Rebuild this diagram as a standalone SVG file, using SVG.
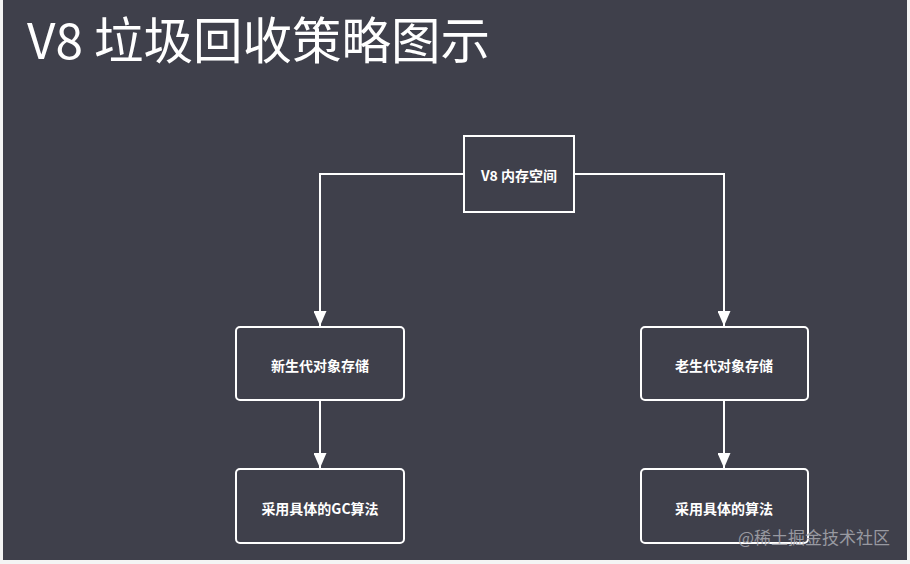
<svg xmlns="http://www.w3.org/2000/svg" width="910" height="564" viewBox="0 0 910 564">
<style>
.box{fill:none;stroke:#ffffff;stroke-width:2}
.lbl{font-family:"Noto Sans CJK SC","Noto Sans",sans-serif;font-size:14px;font-weight:bold;fill:#ffffff;text-anchor:middle;dominant-baseline:central}
.edge{fill:none;stroke:#ffffff;stroke-width:2}
</style>
<defs>
<marker id="arr" markerWidth="15" markerHeight="13" refX="15" refY="6.5" orient="auto" markerUnits="userSpaceOnUse" viewBox="0 0 15 13">
<path d="M0,0 L15,6.5 L0,13 Z" fill="#ffffff"/>
</marker>
</defs>
<rect x="0" y="0" width="910" height="564" fill="#f4f4f4"/>
<rect x="3" y="0" width="904" height="560" fill="#3f404b"/>
<text x="27" y="59" font-size="49.5" fill="#ffffff" style="font-family:'Noto Sans CJK SC','Noto Sans',sans-serif">V8 垃圾回收策略图示</text>
<g id="connectors">
<path class="edge" d="M464,174 H320 V326" marker-end="url(#arr)"/>
<path class="edge" d="M574,174 H724 V326" marker-end="url(#arr)"/>
<path class="edge" d="M320,400 V468" marker-end="url(#arr)"/>
<path class="edge" d="M724,400 V468" marker-end="url(#arr)"/>
</g>
<g id="n_root">
<rect class="box" x="464" y="136" width="110" height="76"/>
<text class="lbl" x="519" y="175">V8 内存空间</text>
</g>
<g id="n_young">
<rect class="box" x="236" y="327" width="168" height="73" rx="4"/>
<text class="lbl" x="320" y="365">新生代对象存储</text>
</g>
<g id="n_old">
<rect class="box" x="641" y="327" width="167" height="73" rx="4"/>
<text class="lbl" x="724" y="365">老生代对象存储</text>
</g>
<g id="n_young_gc">
<rect class="box" x="236" y="469" width="168" height="74" rx="4"/>
<text class="lbl" x="320" y="508">采用具体的GC算法</text>
</g>
<g id="n_old_gc">
<rect class="box" x="641" y="469" width="167" height="74" rx="4"/>
<text class="lbl" x="724" y="508">采用具体的算法</text>
</g>
<text x="890" y="536" text-anchor="end" dominant-baseline="central" style="font-family:'Noto Sans CJK SC','Noto Sans',sans-serif;font-size:17px;fill:#a8a9b0;opacity:0.85">@稀土掘金技术社区</text>
</svg>
